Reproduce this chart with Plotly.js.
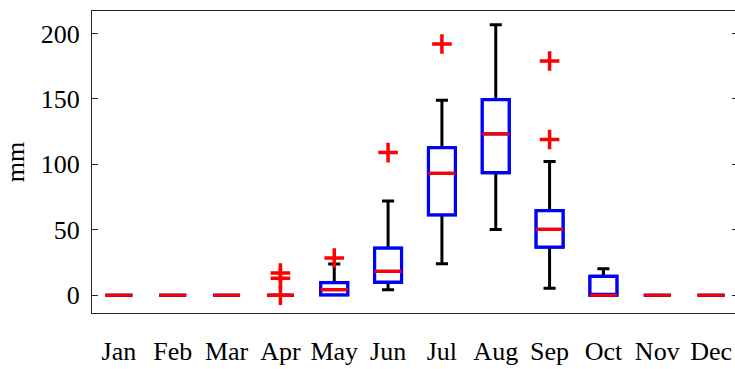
<!DOCTYPE html>
<html>
<head>
<meta charset="utf-8">
<script src="https://cdn.plot.ly/plotly-3.0.1.min.js"></script>
<style>
  html, body { margin: 0; padding: 0; overflow: hidden; background: #fff; }
  #chart { width: 740px; height: 369px; }
</style>
</head>
<body>
<div id="chart"></div>
<script>
const months = ['Jan','Feb','Mar','Apr','May','Jun','Jul','Aug','Sep','Oct','Nov','Dec'];
const q1Vals     = [0, 0, 0, 0, 0.3, 10.0, 61.5,  93.7, 36.8,  0.0, 0, 0];
const medianVals = [0, 0, 0, 0, 4.3, 18.3, 93.2, 123.3, 50.3,  0.0, 0, 0];
const q3Vals     = [0, 0, 0, 0, 9.6, 36.0, 112.7, 149.5, 64.7, 14.5, 0, 0];
const lowVals    = [0, 0, 0, 0, 0.3,  4.3, 24.1,  50.3,  5.3,  0.0, 0, 0];
const highVals   = [0, 0, 0, 0, 23.9, 72.0, 149.0, 206.6, 102.3, 20.3, 0, 0];
const outlierMonths = ['Apr','Apr','Apr','May','Jun','Jul','Sep','Sep'];
const outlierVals   = [0, 13, 17, 28.5, 109, 192, 119, 179];
const yTicks = [0, 50, 100, 150, 200];

const font = {family: 'Liberation Serif, Times New Roman, serif', size: 26, color: '#000'};

const common = {type: 'box', x: months, boxpoints: false, width: 0.5, hoverinfo: 'skip', showlegend: false};

const whiskers = Object.assign({}, common, {
  q1: q1Vals, median: medianVals, q3: q3Vals,
  lowerfence: lowVals, upperfence: highVals,
  whiskerwidth: 0.45,
  line: {color: '#000', width: 3},
  fillcolor: 'rgba(0,0,0,0)'
});
const boxes = Object.assign({}, common, {
  q1: q1Vals, median: medianVals, q3: q3Vals,
  lowerfence: q1Vals, upperfence: q3Vals,
  whiskerwidth: 0,
  line: {color: '#0000ff', width: 3.2},
  fillcolor: '#ffffff'
});
const medians = Object.assign({}, common, {
  q1: medianVals, median: medianVals, q3: medianVals,
  lowerfence: medianVals, upperfence: medianVals,
  whiskerwidth: 0,
  line: {color: '#ff0000', width: 3.2},
  fillcolor: 'rgba(0,0,0,0)'
});
const outliers = {
  type: 'scatter', mode: 'markers', x: outlierMonths, y: outlierVals,
  marker: {symbol: 'cross-thin', size: 14, color: '#ff0000', line: {color: '#ff0000', width: 3.5}},
  hoverinfo: 'skip', showlegend: false
};

const layout = {
  width: 740, height: 369,
  margin: {l: 92, r: 2, t: 11, b: 55.5},
  paper_bgcolor: '#fff', plot_bgcolor: '#fff',
  font: font,
  boxmode: 'overlay',
  xaxis: {
    type: 'category', categoryorder: 'array', categoryarray: months,
    range: [-0.5, 11.5],
    showline: true, mirror: true, linecolor: '#262626', linewidth: 1,
    ticks: '', showgrid: false, zeroline: false,
    tickfont: font, ticklabelstandoff: 15
  },
  yaxis: {
    range: [-13.55, 217.2],
    tickvals: yTicks, ticktext: yTicks.map(String),
    ticks: 'inside', ticklen: 6, tickcolor: '#262626', tickwidth: 1,
    showline: true, mirror: 'ticks', linecolor: '#262626', linewidth: 1,
    showgrid: false, zeroline: false,
    tickfont: font, ticklabelstandoff: 6,
    title: {text: 'mm', font: font, standoff: 8}
  }
};

Plotly.newPlot('chart', [whiskers, boxes, medians, outliers], layout, {displayModeBar: false, staticPlot: true});
</script>
</body>
</html>
